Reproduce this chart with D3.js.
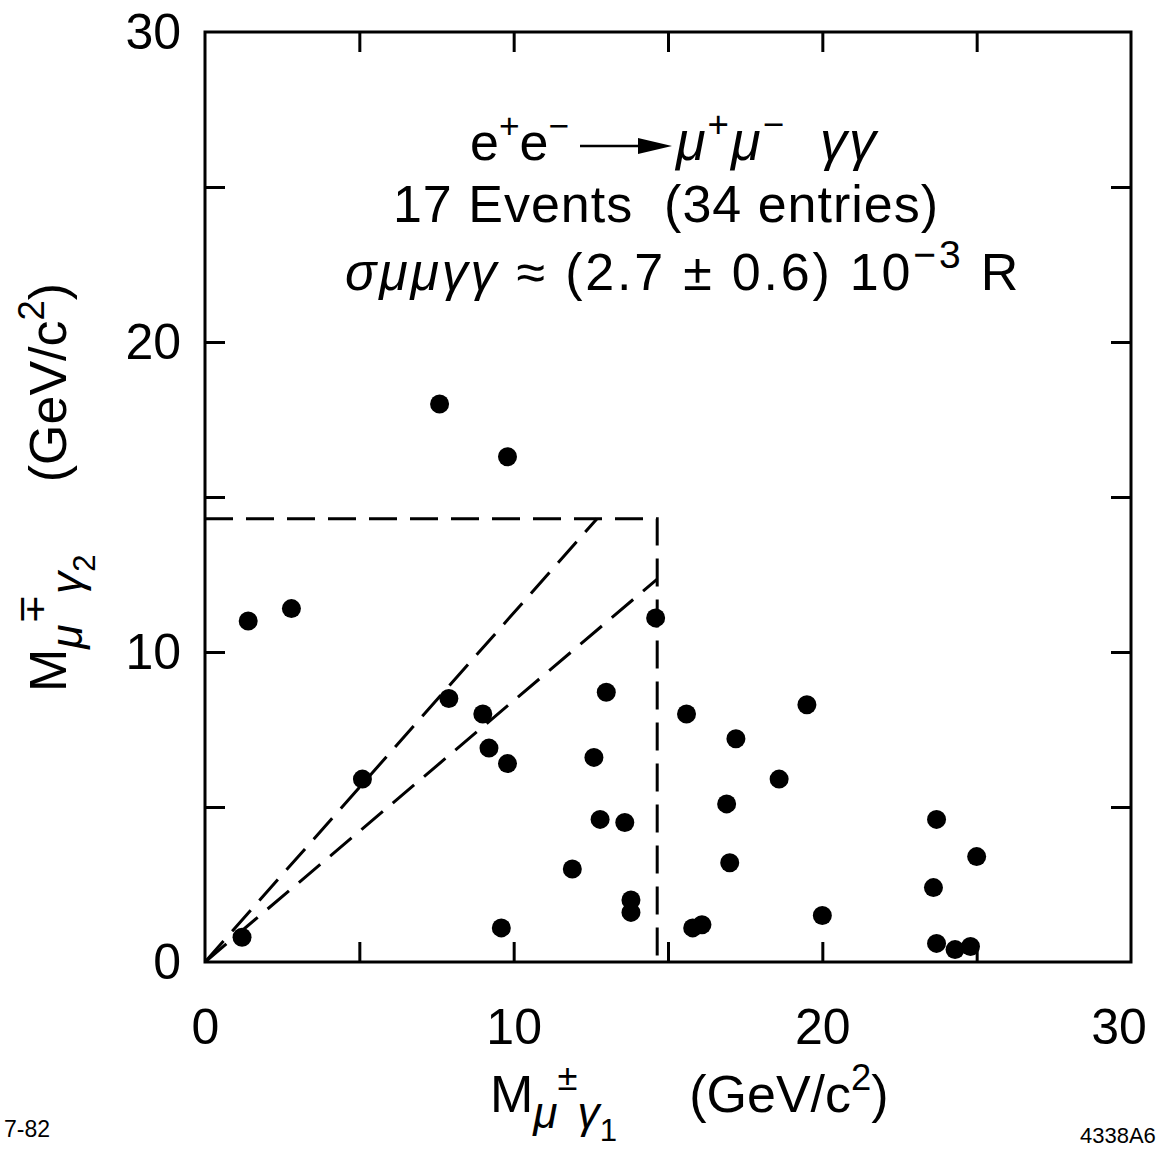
<!DOCTYPE html>
<html>
<head>
<meta charset="utf-8">
<script src="https://cdn.jsdelivr.net/npm/d3@7"></script>
<style>
	body { margin: 0; background: #fff; }
	svg { display: block; }
	text { font-family: "Liberation Sans", "DejaVu Sans", sans-serif; fill: #000; white-space: pre; }
</style>
</head>
<body>
<div id="chart"></div>
<script>
// entries: M(mu gamma1), M(mu gamma2) in GeV/c^2
var massOne = [1.2, 1.4, 2.8, 5.1, 7.6, 7.9, 9.0, 9.2, 9.8, 9.8, 9.6, 11.9, 12.6, 12.8, 13.0, 13.6, 13.8,
	13.8, 14.6, 15.6, 15.8, 16.1, 16.9, 17.0, 17.2, 18.6, 19.5, 20.0, 23.6, 23.7, 23.7, 24.3, 24.8, 25.0];
var massTwo = [0.8, 11.0, 11.4, 5.9, 18.0, 8.5, 8.0, 6.9, 6.4, 16.3, 1.1, 3.0, 6.6, 4.6, 8.7, 4.5, 2.0,
	1.6, 11.1, 8.0, 1.1, 1.2, 5.1, 3.2, 7.2, 5.9, 8.3, 1.5, 2.4, 4.6, 0.6, 0.4, 0.5, 3.4];

// dashed cut box and the two diagonal lines from the origin
var cutBox = [[0, 14.3], [14.65, 14.3], [14.65, 0]];
var diagSteep = [[0, 0], [12.7, 14.3]];
var diagShallow = [[0, 0], [14.65, 12.35]];

var minorTicks = [5, 10, 15, 20, 25];
var labelTicks = [0, 10, 20, 30];

var width = 1164, height = 1151;
var svg = d3.select("#chart").append("svg")
	.attr("width", width)
	.attr("height", height);

var x = d3.scaleLinear().domain([0, 30]).range([205, 1131]);
var y = d3.scaleLinear().domain([0, 30]).range([962, 32]);

// frame
svg.append("rect")
	.attr("x", x(0))
	.attr("y", y(30))
	.attr("width", x(30) - x(0))
	.attr("height", y(0) - y(30))
	.attr("fill", "none")
	.attr("stroke", "#000")
	.attr("stroke-width", 3);

function tickAxis(axis, tx, ty) {
	var g = svg.append("g")
		.attr("transform", "translate(" + tx + "," + ty + ")")
		.call(axis.tickValues(minorTicks).tickFormat("").tickSizeInner(-20).tickSizeOuter(0));
	g.select(".domain").remove();
	g.selectAll(".tick line").attr("stroke", "#000").attr("stroke-width", 3);
	return g;
}
tickAxis(d3.axisBottom(x), 0, y(0));
tickAxis(d3.axisTop(x), 0, y(30));
tickAxis(d3.axisLeft(y), x(0), 0);
tickAxis(d3.axisRight(y), x(30), 0);

// tick labels
var xLab = svg.append("g")
	.attr("transform", "translate(0," + y(0) + ")")
	.call(d3.axisBottom(x).tickValues(labelTicks).tickSize(0).tickPadding(46));
xLab.select(".domain").remove();
xLab.selectAll("text")
	.style("font-size", "50px")
	.style("font-family", "'Liberation Sans', sans-serif")
	.attr("dx", function(d) { return d === 30 ? "-0.25em" : 0; });

var yLab = svg.append("g")
	.attr("transform", "translate(" + x(0) + ",0)")
	.call(d3.axisLeft(y).tickValues(labelTicks).tickSize(0).tickPadding(24));
yLab.select(".domain").remove();
yLab.selectAll("text")
	.style("font-size", "50px")
	.style("font-family", "'Liberation Sans', sans-serif")
	.attr("dy", "0.32em");

// dashed lines
var line = d3.line()
	.x(function(d) { return x(d[0]); })
	.y(function(d) { return y(d[1]); });
[cutBox, diagSteep, diagShallow].forEach(function(pts) {
	svg.append("path")
		.attr("d", line(pts))
		.attr("fill", "none")
		.attr("stroke", "#000")
		.attr("stroke-width", 3)
		.attr("stroke-dasharray", "28,13");
});

// entries
svg.append("g").selectAll("circle")
	.data(massOne)
	.enter()
	.append("circle")
	.attr("cx", function(d) { return x(d); })
	.attr("cy", function(d, i) { return y(massTwo[i]); })
	.attr("r", 9.5)
	.attr("fill", "#000");

// rich text helper: parts are {t, lvl: 1 sup, -1 sub, -2 subsub, it, small}
function rich(sel, parts, size) {
	var level = 0;
	var offs = { 0: 0, 1: -0.42, "-1": 0.3, "-2": 0.55 };
	parts.forEach(function(p) {
		var target = p.lvl || 0;
		var ts = sel.append("tspan").text(p.t);
		var shift = (offs[target] - offs[level]) * size;
		if (shift !== 0) ts.attr("dy", shift);
		level = target;
		var fs = target === 0 ? size : size * (p.small || 0.68);
		ts.style("font-size", fs + "px");
		if (p.it) ts.style("font-style", "italic");
	});
	return sel;
}

// annotation
var ann = svg.append("g");
rich(ann.append("text").attr("x", 470).attr("y", 160), [
	{ t: "e" }, { t: "+", lvl: 1 }, { t: "e" }, { t: "\u2212", lvl: 1 }
], 52);
ann.append("line")
	.attr("x1", 580).attr("y1", 146).attr("x2", 650).attr("y2", 146)
	.attr("stroke", "#000").attr("stroke-width", 2.5);
ann.append("path")
	.attr("d", "M638,138 L672,146 L638,154 Z")
	.attr("fill", "#000");
rich(ann.append("text").attr("x", 676).attr("y", 160).style("letter-spacing", "2px"), [
	{ t: "\u03bc", it: 1 }, { t: "+", lvl: 1 }, { t: "\u03bc", it: 1 }, { t: "\u2212", lvl: 1 },
	{ t: "  \u03b3\u03b3", it: 1 }
], 54);

ann.append("text")
	.attr("x", 666).attr("y", 222)
	.attr("text-anchor", "middle")
	.style("font-size", "52px")
	.style("letter-spacing", "1px")
	.text("17 Events  (34 entries)");

rich(ann.append("text").attr("x", 345).attr("y", 290).style("letter-spacing", "2.8px"), [
	{ t: "\u03c3\u03bc\u03bc\u03b3\u03b3", it: 1 }, { t: " \u2248 (2.7 \u00b1 0.6) 10" },
	{ t: "\u22123", lvl: 1, small: 0.75 }, { t: " R" }
], 52);

// axis titles
rich(svg.append("text").attr("x", 490).attr("y", 1112), [
	{ t: "M" }, { t: "\u03bc", lvl: -1, it: 1, small: 0.85 }, { t: "\u00b1", lvl: 1, small: 0.7 },
	{ t: "\u03b3", lvl: -1, it: 1, small: 0.85 }, { t: "1", lvl: -2, small: 0.6 },
	{ t: "     (GeV/c" }, { t: "2", lvl: 1, small: 0.7 }, { t: ")" }
], 52);

rich(svg.append("text").attr("transform", "translate(66,692) rotate(-90)"), [
	{ t: "M" }, { t: "\u03bc", lvl: -1, it: 1, small: 0.85 }, { t: "\u2213", lvl: 1, small: 0.7 },
	{ t: "\u03b3", lvl: -1, it: 1, small: 0.85 }, { t: "2", lvl: -2, small: 0.6 },
	{ t: "     (GeV/c" }, { t: "2", lvl: 1, small: 0.7 }, { t: ")" }
], 52);

// figure codes
svg.append("text")
	.attr("x", 4).attr("y", 1137)
	.style("font-size", "23px")
	.text("7-82");
svg.append("text")
	.attr("x", 1080).attr("y", 1143)
	.style("font-size", "22px")
	.text("4338A6");
</script>
</body>
</html>
